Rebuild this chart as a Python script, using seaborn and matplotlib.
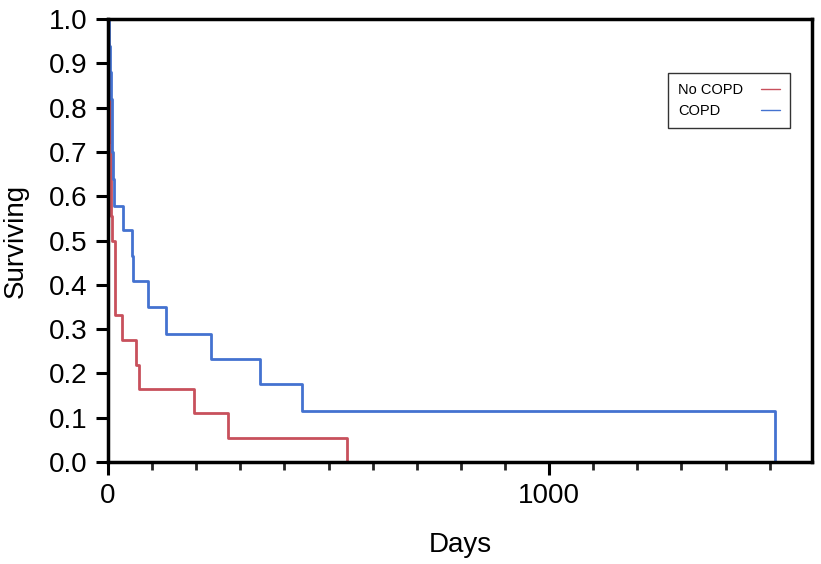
import pandas as pd
import numpy as np
import matplotlib.pyplot as plt
import seaborn as sns
from matplotlib.ticker import MultipleLocator, FixedLocator

sns.set_style("white")
plt.rcParams['font.family'] = ['Liberation Sans', 'DejaVu Sans']
plt.rcParams['text.color'] = 'black'
plt.rcParams['axes.labelcolor'] = 'black'

# Kaplan-Meier steps (days, surviving)
no_copd_days = [0, 1, 2, 3, 4, 5, 6, 7, 8, 10, 15, 17, 31, 64, 71, 196, 273, 541]
no_copd_surv = [1.0, 0.944, 0.889, 0.833, 0.778, 0.722, 0.667, 0.611, 0.556, 0.5, 0.388, 0.332,
                0.275, 0.22, 0.165, 0.110, 0.055, 0.0]

copd_days = [0, 3, 5, 7, 9, 10, 12, 14, 33, 54, 57, 91, 132, 234, 345, 441, 1512]
copd_surv = [1.0, 0.94, 0.88, 0.82, 0.76, 0.70, 0.64, 0.578, 0.524, 0.465, 0.409, 0.349,
             0.290, 0.233, 0.175, 0.116, 0.0]

groups = ["No COPD", "COPD"]
colors = {"No COPD": "#c8505c", "COPD": "#4472d0"}

df = pd.concat([
    pd.DataFrame({"Days": no_copd_days, "Surviving": no_copd_surv, "group": groups[0]}),
    pd.DataFrame({"Days": copd_days, "Surviving": copd_surv, "group": groups[1]}),
])

fig = plt.figure(figsize=(8.21, 5.64), dpi=100)
ax = fig.add_axes([0.1315, 0.181, 0.8575, 0.785])

sns.lineplot(data=df, x="Days", y="Surviving", hue="group", hue_order=groups,
             palette=colors, estimator=None, sort=False, drawstyle="steps-post",
             linewidth=2, ax=ax)

ax.set_xlim(0, 1596)
ax.set_ylim(0, 1.0)
ax.xaxis.set_major_locator(FixedLocator([0, 1000]))
ax.xaxis.set_minor_locator(MultipleLocator(100))
ax.yaxis.set_major_locator(MultipleLocator(0.1))
ax.yaxis.set_major_formatter(plt.FormatStrFormatter('%.1f'))

for s in ax.spines.values():
    s.set_color('black')
    s.set_linewidth(2.5)
ax.tick_params(axis='both', which='major', direction='out', length=9, width=2.2,
               labelsize=20, color='black', labelcolor='black', left=True, bottom=True)
ax.tick_params(axis='x', which='minor', direction='out', length=6, width=2, bottom=True)
ax.tick_params(axis='x', which='major', pad=6)
ax.tick_params(axis='y', which='major', pad=6)

ax.set_xlabel("Days", fontsize=20, labelpad=17)
ax.set_ylabel("Surviving", fontsize=20, labelpad=14)

leg = ax.legend(loc='upper right', bbox_to_anchor=(0.979, 0.896), markerfirst=False,
                fontsize=10.5, frameon=True, fancybox=False, handlelength=1.3,
                handletextpad=1.2, borderpad=0.7, labelspacing=0.5)
leg.get_frame().set_edgecolor('black')
leg.get_frame().set_linewidth(1)
for h in leg.get_lines():
    h.set_linewidth(1)

# left-align the labels so the short lines line up on the right
fig.canvas.draw()
renderer = fig.canvas.get_renderer()
entries = leg._legend_handle_box.get_children()[0].get_children()
widths = [t.get_window_extent(renderer).width for t in leg.get_texts()]
for e, w in zip(entries, widths):
    e.sep += (max(widths) - w) * 72 / fig.dpi

fig.savefig("out.png", dpi=100)
